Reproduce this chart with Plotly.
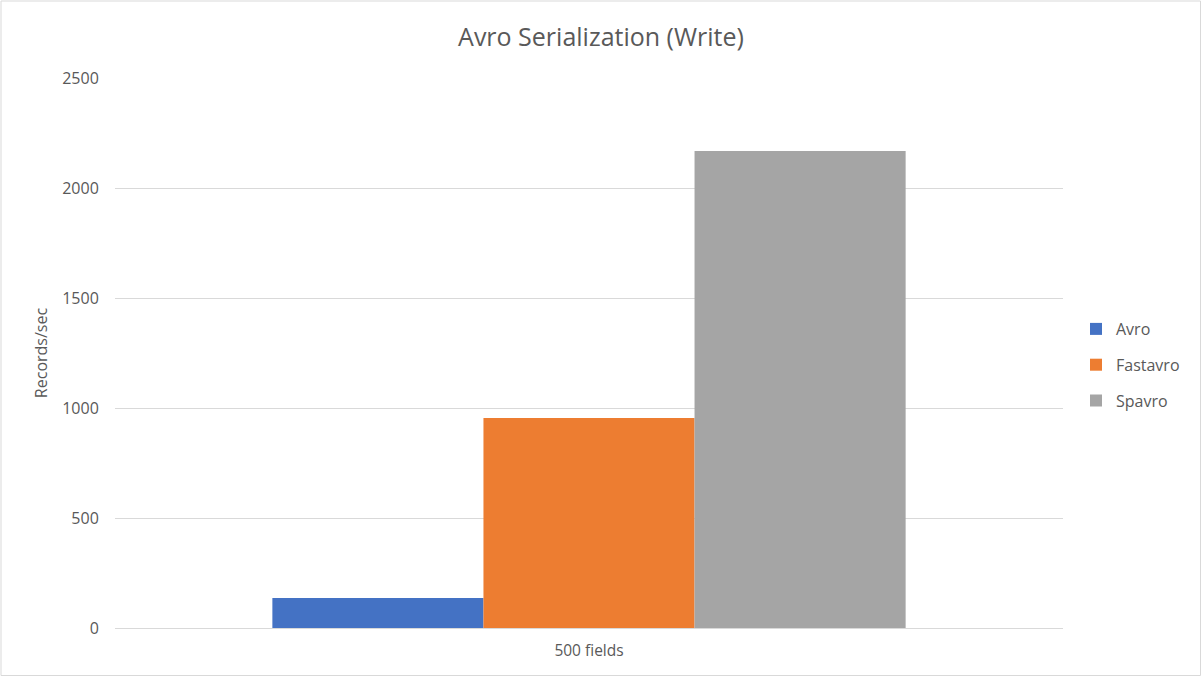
import plotly.graph_objects as go

categories = ["500 fields"]
series_names = ["Avro", "Fastavro", "Spavro"]
avro = [136]
fastavro = [955]
spavro = [2168]
colors = ["#4472C4", "#ED7D31", "#A5A5A5"]
y_ticks = [0, 500, 1000, 1500, 2000, 2500]

W, H = 1202, 677
L, R, T, B = 115, 139, 78, 49

fig = go.Figure()
for name, vals, c in zip(series_names, [avro, fastavro, spavro], colors):
    fig.add_trace(go.Bar(x=categories, y=vals, name=name, legendgroup=name,
                         marker=dict(color=c, line=dict(width=0))))

pw = W - L - R
ph = H - T - B
TXT = "#595959"
fig.update_layout(
    width=W, height=H,
    margin=dict(l=L, r=R, t=T, b=B),
    paper_bgcolor="white", plot_bgcolor="white",
    barmode="group", bargap=0.332, bargroupgap=0,
    font=dict(family="Open Sans", color=TXT, size=16),
    title=dict(text="Avro Serialization (Write)", x=0.5, xanchor="center", y=1 - 37 / H, yanchor="middle",
               font=dict(size=25, color=TXT)),
    legend=dict(x=(1076 - L) / pw, y=(H - B - 365) / ph, xanchor="left", yanchor="middle",
                font=dict(size=16, color=TXT), itemwidth=30, traceorder="grouped", tracegroupgap=12,
                bgcolor="rgba(0,0,0,0)"),
    xaxis=dict(showgrid=False, showline=False, ticks="outside", ticklen=8, tickcolor="rgba(0,0,0,0)",
               tickfont=dict(size=15.5, color=TXT)),
    yaxis=dict(range=[0, 2500], tickvals=y_ticks, showgrid=True, gridcolor="#D9D9D9", gridwidth=1,
               zeroline=True, zerolinecolor="#D9D9D9", zerolinewidth=1, showline=False,
               ticks="outside", ticklen=12, tickcolor="rgba(0,0,0,0)",
               tickfont=dict(size=16, color=TXT),
               title=dict(text="Records/sec", font=dict(size=16, color=TXT), standoff=10)),
    shapes=[dict(type="rect", xref="paper", yref="paper",
                 x0=(1 - L) / pw, x1=(W - 1.5 - L) / pw, y0=-(H - 1.5 - T - ph) / ph, y1=1 + (T - 1) / ph,
                 line=dict(color="#D9D9D9", width=1), fillcolor="rgba(0,0,0,0)", layer="below")],
)
fig.write_html("out.html", config={"displayModeBar": False},
               post_script="document.body.style.margin='0';")
